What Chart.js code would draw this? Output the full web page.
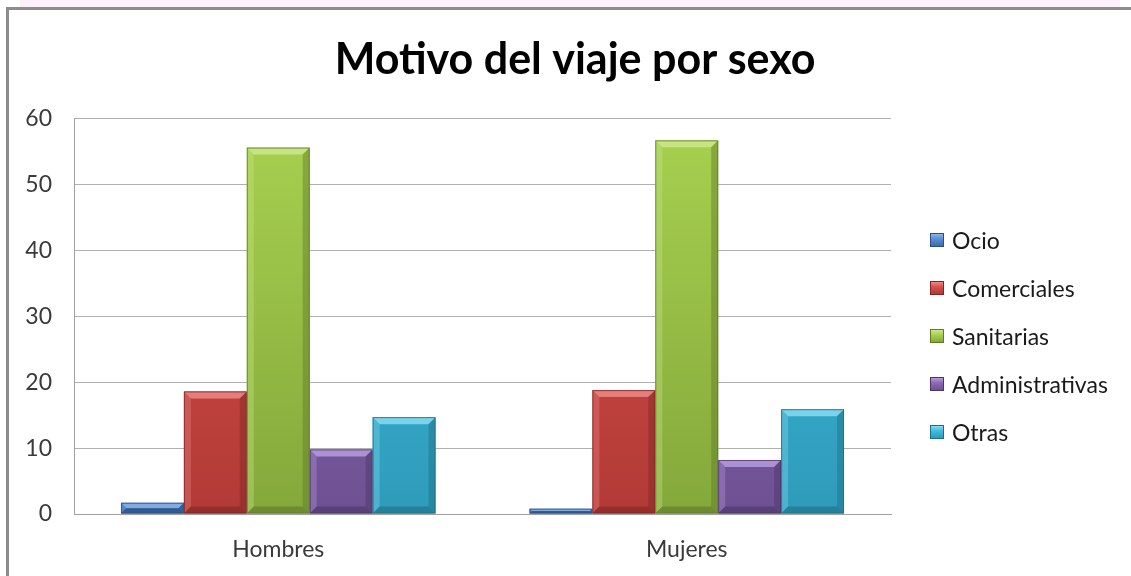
<!DOCTYPE html>
<html>
<head>
<meta charset="utf-8">
<script src="https://cdn.jsdelivr.net/npm/chart.js@4.4.1/dist/chart.umd.min.js"></script>
<style>
  html, body { margin: 0; padding: 0; background: #ffffff; }
  #wrap { position: relative; width: 1131px; height: 576px; overflow: hidden; font-family: Lato, sans-serif; }
  #pink { position: absolute; left: 20px; top: 0; width: 1100px; height: 7px; background: #fcf1fb; }
  #frame { position: absolute; left: 6px; top: 7px; width: 1140px; height: 600px;
           border-left: 3px solid #8c8c8c; border-top: 3px solid #8c8c8c; box-sizing: border-box; }
  canvas { position: absolute; left: 0; top: 0; }
  #legend { position: absolute; left: 930px; top: 0; }
  .li { position: absolute; left: 0; white-space: nowrap; font-size: 23px; color: #1a1a1a; height: 28px; line-height: 28px; }
  .li .bx { position: absolute; left: 0; top: 7px; width: 14px; height: 14px; box-sizing: border-box; }
  .li .tx { position: absolute; left: 22px; top: 0; }
</style>
</head>
<body>
<div id="wrap">
  <div id="pink"></div>
  <div id="frame"></div>
  <canvas id="c" width="1131" height="576"></canvas>
  <div id="legend"></div>
</div>
<script>
const categories = ['Hombres', 'Mujeres'];
const seriesNames = ['Ocio', 'Comerciales', 'Sanitarias', 'Administrativas', 'Otras'];
const ocio = [1.7, 0.8];
const comerciales = [18.6, 18.8];
const sanitarias = [55.6, 56.7];
const administrativas = [9.8, 8.2];
const otras = [14.7, 15.9];
const yTicks = [0, 10, 20, 30, 40, 50, 60];

const seriesValues = [ocio, comerciales, sanitarias, administrativas, otras];
const palette = [
  { top: '#5b8fd2', bot: '#3b6cae', light: '#8fb6e8', dark: '#2a4f82' },
  { top: '#d9504c', bot: '#b23a36', light: '#ec8a86', dark: '#7f2725' },
  { top: '#a8d150', bot: '#84a83b', light: '#cbe88c', dark: '#5f7a28' },
  { top: '#8b6bb5', bot: '#6e5192', light: '#b79ce0', dark: '#4c3668' },
  { top: '#3fbde0', bot: '#2f9bba', light: '#86dcf2', dark: '#1f6e85' }
];

// HTML legend (real text)
const legendEl = document.getElementById('legend');
const legendY = [240, 288, 336, 384, 432];
seriesNames.forEach((name, i) => {
  const d = document.createElement('div');
  d.className = 'li';
  d.style.top = (legendY[i] - 14) + 'px';
  const bx = document.createElement('span');
  bx.className = 'bx';
  bx.style.background = 'linear-gradient(' + palette[i].light + ',' + palette[i].top + ' 40%,' + palette[i].bot + ')';
  bx.style.border = '1px solid ' + palette[i].dark;
  const tx = document.createElement('span');
  tx.className = 'tx';
  tx.textContent = name;
  d.appendChild(bx); d.appendChild(tx);
  legendEl.appendChild(d);
});

function grad(ctx, chartArea, p) {
  const g = ctx.createLinearGradient(0, chartArea.top, 0, chartArea.bottom);
  g.addColorStop(0, p.top);
  g.addColorStop(1, p.bot);
  return g;
}

const bevelPlugin = {
  id: 'bevel',
  afterDatasetsDraw(chart) {
    const ctx = chart.ctx;
    chart.data.datasets.forEach((ds, i) => {
      const meta = chart.getDatasetMeta(i);
      if (meta.hidden) return;
      const p = palette[i];
      meta.data.forEach(bar => {
        const w = bar.width;
        const l = bar.x - w / 2, r = bar.x + w / 2;
        const t = Math.min(bar.y, bar.base), b = Math.max(bar.y, bar.base);
        const h = b - t;
        const s = Math.min(7, h / 2, w / 4);
        ctx.save();
        ctx.fillStyle = p.light; ctx.globalAlpha = 0.85;
        ctx.beginPath(); ctx.moveTo(l, t); ctx.lineTo(r, t); ctx.lineTo(r - s, t + s); ctx.lineTo(l + s, t + s); ctx.closePath(); ctx.fill();
        ctx.globalAlpha = 0.35;
        ctx.beginPath(); ctx.moveTo(l, t); ctx.lineTo(l + s, t + s); ctx.lineTo(l + s, b - s); ctx.lineTo(l, b); ctx.closePath(); ctx.fill();
        ctx.fillStyle = p.dark; ctx.globalAlpha = 0.45;
        ctx.beginPath(); ctx.moveTo(r, t); ctx.lineTo(r - s, t + s); ctx.lineTo(r - s, b - s); ctx.lineTo(r, b); ctx.closePath(); ctx.fill();
        ctx.globalAlpha = 0.6;
        ctx.beginPath(); ctx.moveTo(l, b); ctx.lineTo(l + s, b - s); ctx.lineTo(r - s, b - s); ctx.lineTo(r, b); ctx.closePath(); ctx.fill();
        ctx.globalAlpha = 0.8; ctx.strokeStyle = p.dark; ctx.lineWidth = 1;
        ctx.strokeRect(l + 0.5, t + 0.5, w - 1, h - 1);
        ctx.restore();
      });
    });
  }
};

const datasets = seriesNames.map((name, i) => ({
  label: name,
  data: seriesValues[i],
  backgroundColor: (c) => {
    const ca = c.chart.chartArea;
    if (!ca) return palette[i].top;
    return grad(c.chart.ctx, ca, palette[i]);
  },
  borderWidth: 0
}));

new Chart(document.getElementById('c'), {
  type: 'bar',
  data: { labels: categories, datasets },
  plugins: [bevelPlugin],
  options: {
    responsive: false,
    animation: false,
    devicePixelRatio: 1,
    layout: { padding: { left: 19, right: 0, top: 0, bottom: 0 } },
    datasets: { bar: { categoryPercentage: 0.77, barPercentage: 1.0 } },
    scales: {
      x: {
        afterFit: (ax) => { ax.height = 62; },
        grid: { display: false, drawTicks: false },
        border: { display: true, color: '#a0a0a0', width: 1 },
        ticks: { color: '#3a3a3a', font: { family: 'Lato', size: 23 }, padding: 22 }
      },
      y: {
        min: 0, max: 60,
        afterBuildTicks: (ax) => { ax.ticks = yTicks.map(v => ({ value: v })); },
        afterFit: (ax) => { ax.width = 55; },
        grid: { color: '#b0b0b0', lineWidth: 1, drawTicks: false },
        border: { display: true, color: '#a0a0a0', width: 1 },
        ticks: { color: '#3a3a3a', font: { family: 'Lato', size: 23 }, padding: 22 }
      },
      legendSpace: {
        type: 'linear',
        position: 'right',
        display: true,
        afterFit: (ax) => { ax.width = 240; },
        grid: { display: false, drawTicks: false },
        border: { display: false },
        ticks: { display: false }
      }
    },
    plugins: {
      title: {
        display: true,
        text: 'Motivo del viaje por sexo',
        color: '#000000',
        font: { family: 'Lato', size: 43, weight: 'bold' },
        padding: { top: 34, bottom: 33 }
      },
      legend: { display: false },
      tooltip: { enabled: false }
    }
  }
});
</script>
</body>
</html>
